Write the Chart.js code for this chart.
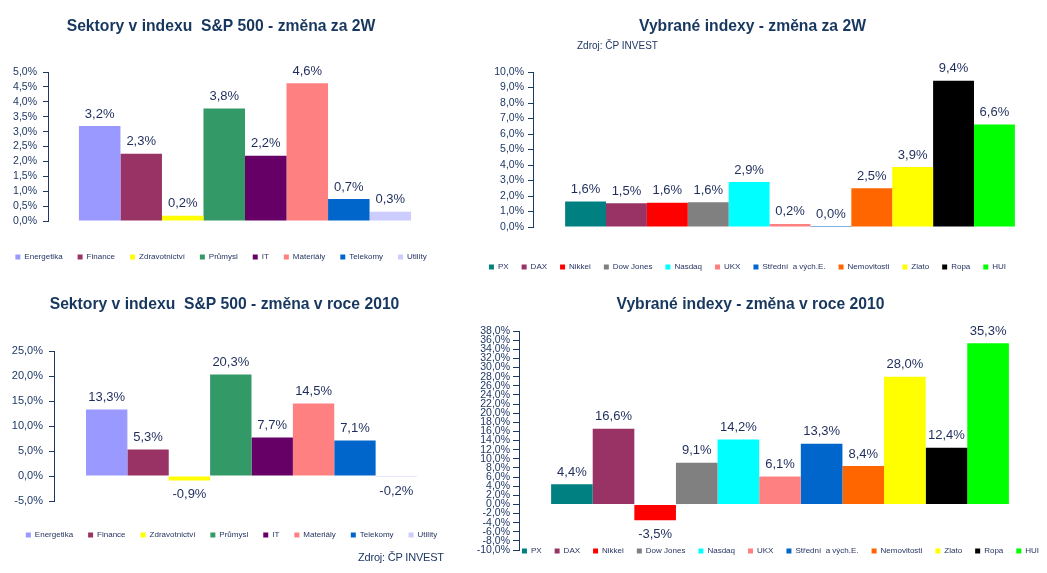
<!DOCTYPE html>
<html>
<head>
<meta charset="utf-8">
<script src="https://cdn.jsdelivr.net/npm/chart.js@4.4.1/dist/chart.umd.min.js"></script>
<style>
  html, body { margin: 0; padding: 0; background: #fff; overflow: hidden; width: 1047px; height: 573px; }
  .box { position: absolute; }
  .src { position: absolute; font-family: "Liberation Sans", Arial, sans-serif; color: #1F3864; white-space: nowrap; }
</style>
</head>
<body>
<div class="box" style="left:0;top:0;width:450px;height:275px"><canvas id="c1"></canvas></div>
<div class="box" style="left:450px;top:0;width:597px;height:275px"><canvas id="c2"></canvas></div>
<div class="box" style="left:0;top:280px;width:450px;height:293px"><canvas id="c3"></canvas></div>
<div class="box" style="left:470px;top:280px;width:577px;height:301px"><canvas id="c4"></canvas></div>
<div class="src" style="left:577px;top:40px;font-size:10px">Zdroj: ČP INVEST</div>
<div class="src" style="left:358px;top:551px;font-size:11px;letter-spacing:-0.2px">Zdroj: ČP INVEST</div>

<script>
// data
const sectors = ['Energetika', 'Finance', 'Zdravotnictví', 'Průmysl', 'IT', 'Materiály', 'Telekomy', 'Utility'];
const sectorColors = ['#9999FF', '#993366', '#FFFF00', '#339966', '#660066', '#FF8080', '#0066CC', '#CCCCFF'];
const sectors2W = [3.19, 2.26, 0.18, 3.78, 2.19, 4.62, 0.74, 0.31];
const sectors2010 = [13.3, 5.3, -0.9, 20.3, 7.7, 14.5, 7.1, -0.2];

const indices = ['PX', 'DAX', 'Nikkei', 'Dow Jones', 'Nasdaq', 'UKX', 'Střední  a vých.E.', 'Nemovitosti', 'Zlato', 'Ropa', 'HUI'];
const indexColors = ['#008080', '#993366', '#FF0000', '#808080', '#00FFFF', '#FF8080', '#0066CC', '#FF6600', '#FFFF00', '#000000', '#00FF00'];
const indices2W = [1.64, 1.54, 1.56, 1.6, 2.9, 0.2, 0.03, 2.5, 3.87, 9.44, 6.62];
const indices2010 = [4.4, 16.6, -3.5, 9.1, 14.2, 6.1, 13.3, 8.4, 28.0, 12.4, 35.3];

const FONT = '"Liberation Sans", Arial, sans-serif';
const NAVY = '#1F3864';
const LABEL = '#1F2D5C';

const fmt = v => Number(v).toFixed(1).replace('.', ',') + '%';

// popisky hodnot nad / pod sloupci
const valueLabels = {
    id: 'valueLabels',
    afterDatasetsDraw(chart) {
        const ctx = chart.ctx;
        ctx.save();
        ctx.font = '13px ' + FONT;
        ctx.fillStyle = LABEL;
        ctx.textAlign = 'center';
        ctx.textBaseline = 'middle';
        chart.data.datasets.forEach((ds, i) => {
            const el = chart.getDatasetMeta(i).data[0];
            const v = ds.data[0];
            ctx.fillText(fmt(v), el.x, v >= 0 ? el.y - 12 : el.y + 14);
        });
        ctx.restore();
    }
};

// posun legendy a titulku
const shiftBoxes = {
    id: 'shiftBoxes',
    afterLayout(chart, args, o) {
        const lg = chart.legend;
        lg.left += o.lx; lg.right += o.lx;
        lg.top += o.ly; lg.bottom += o.ly;
        const t = chart.titleBlock;
        t.left += o.tx; t.right += o.tx;
    }
};

function makeChart(id, title, names, values, colors, c) {
    return new Chart(document.getElementById(id), {
        type: 'bar',
        data: {
            labels: [''],
            datasets: names.map((n, i) => ({
                label: n,
                data: [values[i]],
                backgroundColor: colors[i],
                borderWidth: 0,
                barPercentage: 1,
                categoryPercentage: c.cat,
                minBarLength: 1
            }))
        },
        options: {
            responsive: true,
            maintainAspectRatio: false,
            animation: false,
            layout: { padding: { left: 0, right: c.pr, top: 0, bottom: c.pb } },
            scales: {
                x: { display: false },
                y: {
                    min: c.min,
                    max: c.max,
                    afterFit: s => { s.width = c.axisW; },
                    ticks: {
                        stepSize: c.step,
                        autoSkip: false,
                        padding: c.tp,
                        color: NAVY,
                        font: { family: FONT, size: c.fs },
                        callback: v => fmt(v)
                    },
                    grid: { drawOnChartArea: false, drawTicks: true, tickLength: c.tl, color: NAVY },
                    border: { display: true, color: NAVY, width: 1 }
                }
            },
            plugins: {
                title: {
                    display: true,
                    text: title,
                    color: '#17375E',
                    font: { family: FONT, size: 15.7, weight: 'bold' },
                    padding: { top: c.tt, bottom: c.tb }
                },
                legend: {
                    position: 'bottom',
                    labels: {
                        boxWidth: 5,
                        boxHeight: 5,
                        padding: c.lp,
                        color: LABEL,
                        font: { family: FONT, size: 8 }
                    }
                },
                tooltip: { enabled: false },
                shiftBoxes: { lx: c.lx, ly: c.ly, tx: c.tx }
            }
        },
        plugins: [valueLabels, shiftBoxes]
    });
}

makeChart('c1', 'Sektory v indexu  S&P 500 - změna za 2W', sectors, sectors2W, sectorColors,
    { cat: 0.843, pr: 8, pb: 21, min: 0, max: 5, step: 0.5, axisW: 48, tp: 6, tl: 5, fs: 10.5,
      tt: 17.6, tb: 35.6, lp: 15, lx: 0, ly: 17, tx: 0 });

makeChart('c2', 'Vybrané indexy - změna za 2W', indices, indices2W, indexColors,
    { cat: 0.875, pr: 0, pb: 17, min: 0, max: 10, step: 1, axisW: 83, tp: 4, tl: 5, fs: 10.5,
      tt: 17.6, tb: 35.6, lp: 13, lx: -1, ly: 23, tx: 4 });

makeChart('c3', 'Sektory v indexu  S&P 500 - změna v roce 2010', sectors, sectors2010, sectorColors,
    { cat: 0.838, pr: 1, pb: 39, min: -5, max: 25, step: 5, axisW: 54, tp: 6, tl: 5, fs: 11,
      tt: 15.6, tb: 36.6, lp: 15, lx: 7, ly: 15, tx: 0 });

makeChart('c4', 'Vybrané indexy - změna v roce 2010', indices, indices2010, indexColors,
    { cat: 0.877, pr: 6, pb: 0, min: -10, max: 38, step: 2, axisW: 49, tp: 3, tl: 6, fs: 10.5,
      tt: 15.6, tb: 16.6, lp: 13, lx: 25, ly: -16, tx: -5 });
</script>
</body>
</html>
